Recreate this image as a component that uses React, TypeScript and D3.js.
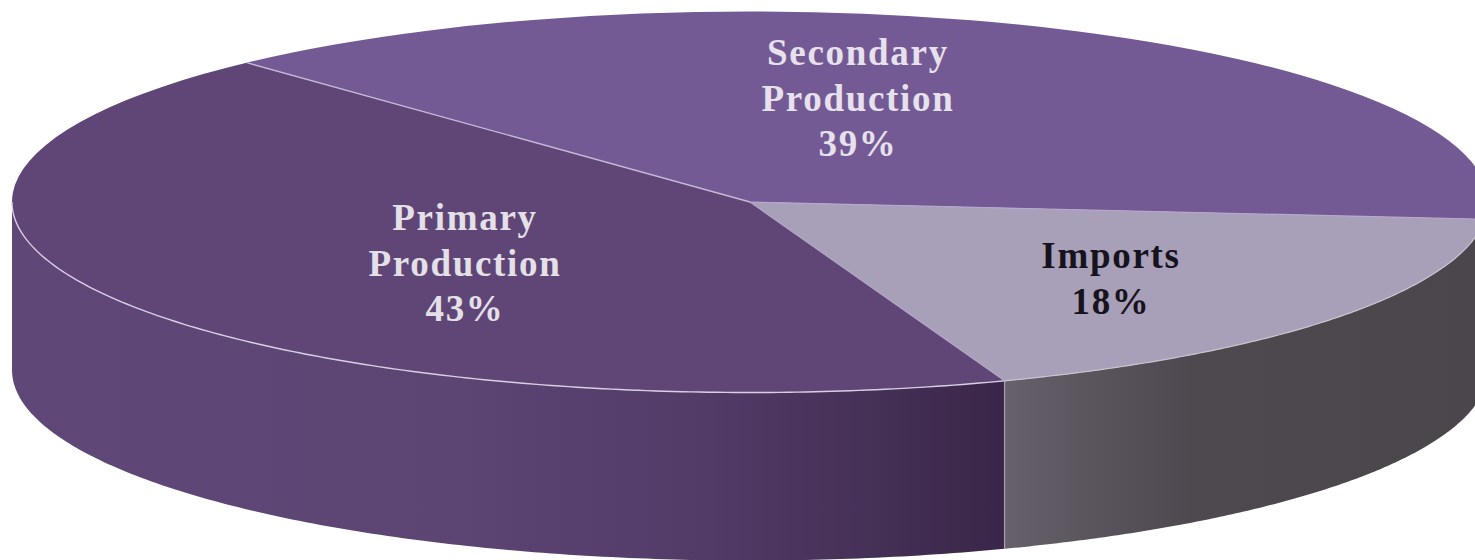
import React from "react";
import * as d3 from "d3";

const categories = ["Secondary Production", "Imports", "Primary Production"];
const shares = [39, 18, 43];
const topColors = ["#745a94", "#a89fb9", "#5f4677"];
const labelLines = [["Secondary", "Production", "39%"], ["Imports", "18%"], ["Primary", "Production", "43%"]];
const labelColors = ["#e6e1ec", "#17131c", "#e4e0e8"];
const labelAnchors = [[858, 65], [1111, 268], [465, 230]];
const wallStops = [
  ["Primary Production", [[0, "#5f4777"], [0.45, "#5c4473"], [0.7, "#523b67"], [0.87, "#453056"], [1, "#3a2648"]]],
  ["Imports", [[0, "#66616a"], [0.2, "#59545c"], [0.4, "#4e494f"], [1, "#4b464b"]]],
] as const;

const W = 1475, H = 560;
const cx = 750, cy = 202, rx = 738, ry = 190.5, depth = 168;
const startAngle = (-43 * Math.PI) / 180;

// The original is drawn in perspective, which foreshortens angles slightly on the far side.
const warp = (a: number) => a - ((1.25 * Math.PI) / 180) * (1 - Math.cos(a - startAngle));

const pie = d3.pie<number>().sort(null).startAngle(startAngle).endAngle(startAngle + 2 * Math.PI);
const arcs = pie(shares).map((a) => ({ ...a, startAngle: warp(a.startAngle), endAngle: warp(a.endAngle) }));
const arcPath = d3.arc<d3.PieArcDatum<number>>().innerRadius(0).outerRadius(rx);

const px = (a: number) => cx + rx * Math.sin(a);
const py = (a: number) => cy - ry * Math.cos(a);

function wallPath(a0: number, a1: number) {
  const lo = Math.max(a0, Math.PI / 2);
  const hi = Math.min(a1, 1.5 * Math.PI);
  const n = 160;
  const samples = d3.range(n + 1).map((i) => lo + ((hi - lo) * i) / n);
  return d3.area<number>().x(px).y0(py).y1((a) => py(a) + depth)(samples) ?? "";
}
function rimPath(a0: number, a1: number) {
  const n = 160;
  const samples = d3.range(n + 1).map((i) => a0 + ((a1 - a0) * i) / n);
  return d3.line<number>().x(px).y(py)(samples) ?? "";
}

export default function App() {
  const imports = arcs[1];
  const primary = arcs[2];
  const seam = px(imports.endAngle);
  return (
    <svg width={W} height={H} viewBox={`0 0 ${W} ${H}`}
      style={{ position: "absolute", left: 0, top: 0, background: "#fff", display: "block" }}>
      <defs>
        {wallStops.map(([name, stops], i) => {
          const xs = i === 0 ? [px(1.5 * Math.PI), seam] : [seam, W];
          return (
            <linearGradient key={name} id={`wall${i}`} gradientUnits="userSpaceOnUse" x1={xs[0]} x2={xs[1]} y1={0} y2={0}>
              {stops.map(([o, c]) => <stop key={o} offset={o} stopColor={c} />)}
            </linearGradient>
          );
        })}
      </defs>
      <path d={wallPath(primary.startAngle, primary.endAngle)} fill="url(#wall0)" />
      <path d={wallPath(imports.startAngle, imports.endAngle)} fill="url(#wall1)" />
      <line x1={seam} x2={seam} y1={py(imports.endAngle)} y2={py(imports.endAngle) + depth}
        stroke="#a79fb0" strokeWidth={1.3} />
      <g transform={`translate(${cx},${cy}) scale(1,${ry / rx})`}>
        {arcs.map((a, i) => (
          <path key={categories[i]} d={arcPath(a) ?? ""} fill={topColors[i]} />
        ))}
      </g>
      <path d={rimPath(primary.startAngle, 1.5 * Math.PI)} fill="none" stroke="#d8cfe2" strokeWidth={1.4} />
      <path d={rimPath(imports.startAngle, imports.endAngle)} fill="none" stroke="#c9c3d0" strokeWidth={1.2} />
      <line x1={cx} y1={cy} x2={px(primary.endAngle)} y2={py(primary.endAngle)} stroke="#c6b9d6" strokeWidth={1.3} />
      <line x1={cx} y1={cy} x2={px(imports.startAngle)} y2={py(imports.startAngle)} stroke="#b6a8cc" strokeWidth={1.2} />
      <line x1={cx} y1={cy} x2={seam} y2={py(imports.endAngle)} stroke="#b3a6c4" strokeWidth={1.2} />
      {labelLines.map((lines, i) => (
        <text key={categories[i]} textAnchor="middle" fontFamily="'Liberation Serif', serif" fontWeight={700}
          fontSize={37} letterSpacing={1.7} fill={labelColors[i]}>
          {lines.map((t, j) => (
            <tspan key={t} x={labelAnchors[i][0]} y={labelAnchors[i][1] + j * 45.5}>{t}</tspan>
          ))}
        </text>
      ))}
    </svg>
  );
}
